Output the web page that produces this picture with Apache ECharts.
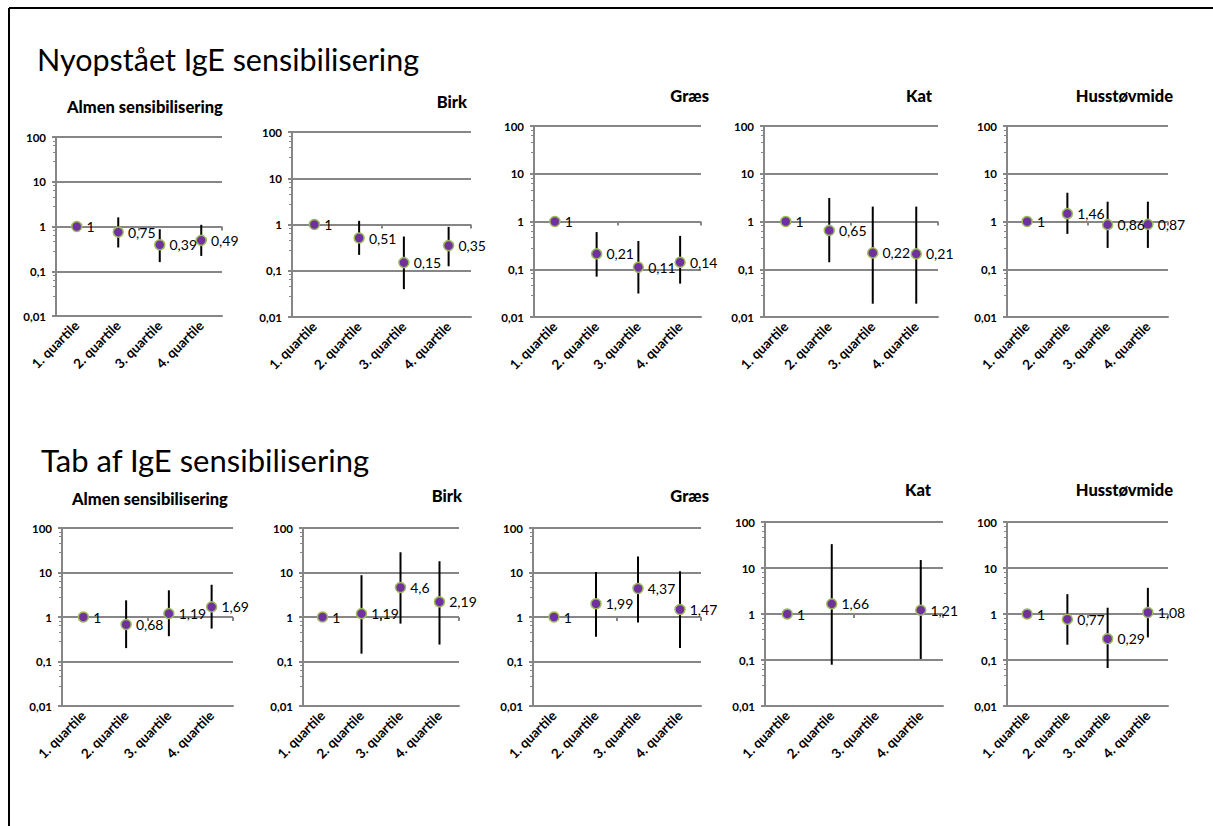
<!DOCTYPE html>
<html><head><meta charset="utf-8">
<script src="https://cdn.jsdelivr.net/npm/echarts@6/dist/echarts.min.js"></script>
<style>html,body{margin:0;padding:0;background:#fff}#c{width:1213px;height:826px}</style>
</head><body><div id="c"></div><script>
const categories = ['1. quartile','2. quartile','3. quartile','4. quartile'];
const panelTitles = ['Almen sensibilisering','Birk','Græs','Kat','Husstøvmide'];
const sectionTitles = ['Nyopstået IgE sensibilisering','Tab af IgE sensibilisering'];
// Nyopstået IgE sensibilisering: odds ratio and confidence limits per panel
const nyOR   = [[1,0.75,0.39,0.49],[1,0.51,0.15,0.35],[1,0.21,0.11,0.14],[1,0.65,0.22,0.21],[1,1.46,0.86,0.87]];
const nyLow  = [[null,0.34,0.16,0.22],[null,0.22,0.04,0.125],[null,0.07,0.031,0.05],[null,0.14,0.019,0.019],[null,0.55,0.28,0.28]];
const nyHigh = [[null,1.6,0.87,1.09],[null,1.2,0.55,0.89],[null,0.6,0.39,0.5],[null,3.1,2.05,2.05],[null,4.0,2.6,2.6]];
// Tab af IgE sensibilisering
const tabOR   = [[1,0.68,1.19,1.69],[1,1.19,4.6,2.19],[1,1.99,4.37,1.47],[1,1.66,null,1.21],[1,0.77,0.29,1.08]];
const tabLow  = [[null,0.2,0.37,0.55],[null,0.15,0.71,0.24],[null,0.36,0.75,0.2],[null,0.079,null,0.105],[null,0.215,0.067,0.31]];
const tabHigh = [[null,2.37,3.98,5.3],[null,8.7,28.5,17.9],[null,10.2,23,10.7],[null,33,null,14.9],[null,2.7,1.37,3.7]];

const W = 1213;
const FONT = 'Lato';
const gridBoxes = [
  {left:56,top:137,width:166,height:179},
  {left:292,top:132,width:179,height:185},
  {left:534,top:126,width:167,height:191},
  {left:764,top:126,width:174,height:191},
  {left:1007,top:126,width:161,height:191},
  {left:62,top:528,width:171,height:178},
  {left:303,top:528,width:156,height:178},
  {left:533,top:528,width:168,height:178},
  {left:765,top:522,width:178,height:184},
  {left:1007,top:522,width:161,height:184}
];
const titleBoxes = [
  {left:67,top:98},{right:W-467,top:93},{right:W-709,top:87},{right:W-932,top:87},{right:W-1173,top:87},
  {left:72,top:490},{right:W-462,top:487},{right:W-709,top:487},{right:W-931,top:481},{right:W-1173,top:481}
];
const fmt = v => String(Number(Number(v).toPrecision(6))).replace('.', ',');
const gray = '#868686';

const grid = [], xAxis = [], yAxis = [], series = [], title = [];
title.push({text:sectionTitles[0], left:37, top:43, padding:0, textStyle:{fontFamily:FONT,fontSize:30.5,fontWeight:'normal',color:'#000'}});
title.push({text:sectionTitles[1], left:41, top:444, padding:0, textStyle:{fontFamily:FONT,fontSize:31,fontWeight:'normal',color:'#000'}});

for (let i = 0; i < 10; i++) {
  const row = i < 5 ? 0 : 1, p = i % 5;
  const OR = row === 0 ? nyOR[p] : tabOR[p];
  const lo = row === 0 ? nyLow[p] : tabLow[p];
  const hi = row === 0 ? nyHigh[p] : tabHigh[p];
  grid.push(Object.assign({containLabel:false}, gridBoxes[i]));
  title.push(Object.assign({text:panelTitles[p], padding:0, textStyle:{fontFamily:FONT,fontSize:16.5,fontWeight:900,color:'#000'}}, titleBoxes[i]));
  xAxis.push({type:'category', gridIndex:i, data:categories, boundaryGap:true,
    axisLine:{show:true,lineStyle:{color:gray,width:2}}, axisTick:{show:false},
    axisLabel:{rotate:45, interval:0, fontFamily:FONT, fontSize:13.5, fontWeight:'bold', color:'#000', margin:7}});
  yAxis.push({type:'log', logBase:10, gridIndex:i, min:0.01, max:100,
    axisLine:{show:true,lineStyle:{color:gray,width:2}},
    axisTick:{show:true,inside:false,length:4,lineStyle:{color:gray,width:2}},
    minorTick:{show:true,splitNumber:5,length:3,lineStyle:{color:gray,width:1}},
    splitLine:{show:true,lineStyle:{color:gray,width:2}},
    axisLabel:{fontFamily:FONT,fontSize:11.5,fontWeight:'bold',color:'#000',margin:10,formatter:v=>fmt(v)}});
  series.push({type:'custom', xAxisIndex:i, yAxisIndex:i, z:2,
    data: categories.map((c,j)=>[j, lo[j], hi[j]]).filter(d=>d[1]!==null),
    encode:{x:0,y:[1,2]},
    renderItem:(params, api)=>{
      const x = api.value(0);
      const a = api.coord([x, api.value(1)]);
      const b = api.coord([x, api.value(2)]);
      return {type:'line', shape:{x1:a[0],y1:a[1],x2:b[0],y2:b[1]}, style:{stroke:'#000',lineWidth:2}};
    }});
  series.push({type:'scatter', xAxisIndex:i, yAxisIndex:i, z:3,
    data: OR.map(v => v === null ? '-' : v),
    symbolSize:10,
    itemStyle:{color:'#7030A0',borderColor:'#9BBB59',borderWidth:1.5,opacity:1},
    label:{show:true, position:'right', distance:4, fontFamily:FONT, fontSize:14, color:'#000',
      formatter: q => fmt(Array.isArray(q.value) ? q.value[1] : q.value)}});
}
// horizontal axis crossing at 1 (middle of the 0.01–100 log range): tick marks only
for (let i = 0; i < 10; i++) {
  xAxis.push({type:'category', gridIndex:i, data:categories, boundaryGap:true, position:'bottom',
    offset: -gridBoxes[i].height / 2,
    axisLine:{show:false}, axisLabel:{show:false}, splitLine:{show:false},
    axisTick:{show:true, length:4, lineStyle:{color:gray,width:2}}});
}

const chart = echarts.init(document.getElementById('c'), null, {renderer:'svg'});
chart.setOption({
  animation:false, backgroundColor:'#fff',
  title, grid, xAxis, yAxis, series,
  graphic:[
    {type:'line', shape:{x1:9,y1:8,x2:1213,y2:8}, style:{stroke:'#000',lineWidth:2}},
    {type:'line', shape:{x1:9,y1:8,x2:9,y2:826}, style:{stroke:'#000',lineWidth:2}}
  ]
});
</script></body></html>
